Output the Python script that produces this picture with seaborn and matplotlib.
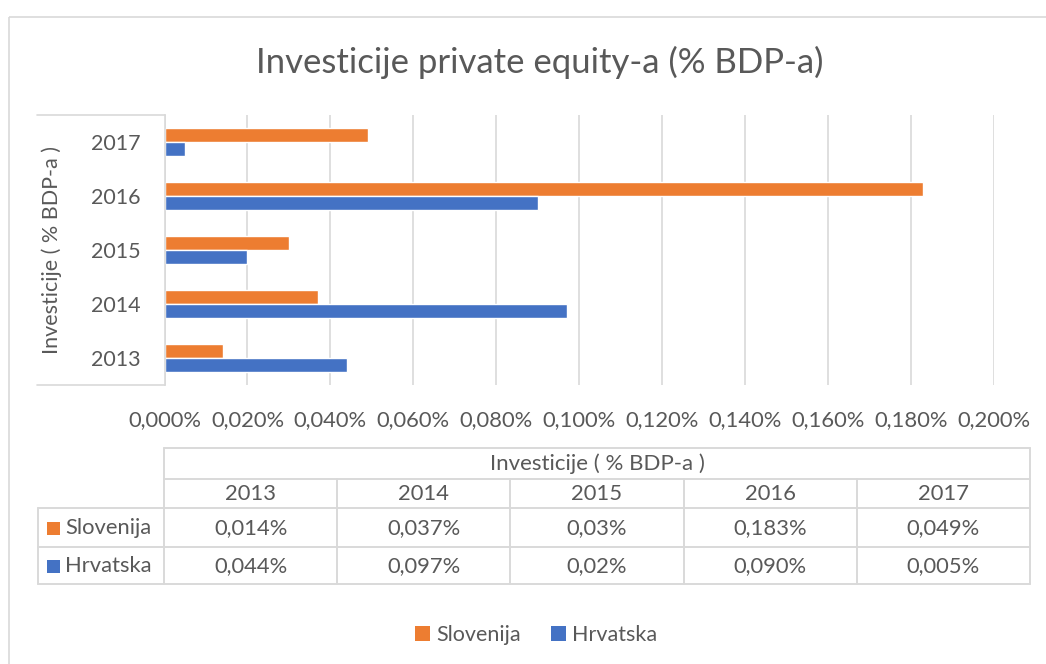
import matplotlib
matplotlib.use("Agg")
import matplotlib.pyplot as plt
from matplotlib.patches import Patch, Rectangle
from matplotlib.lines import Line2D
import seaborn as sns
import pandas as pd

# ---- data ----
years = ["2013", "2014", "2015", "2016", "2017"]
countries = ["Slovenija", "Hrvatska"]
slovenija = [0.014, 0.037, 0.030, 0.183, 0.049]
hrvatska = [0.044, 0.097, 0.020, 0.090, 0.005]
slovenija_labels = ["0,014%", "0,037%", "0,03%", "0,183%", "0,049%"]
hrvatska_labels = ["0,044%", "0,097%", "0,02%", "0,090%", "0,005%"]
x_ticks = [0.00, 0.02, 0.04, 0.06, 0.08, 0.10, 0.12, 0.14, 0.16, 0.18, 0.20]
title = "Investicije private equity-a (% BDP-a)"
axis_title = "Investicije ( % BDP-a )"

ORANGE = "#ED7D31"
BLUE = "#4472C4"
TXT = "#595959"
GRID = "#D9D9D9"

df = pd.DataFrame({
    "year": years * 2,
    "country": ["Slovenija"] * len(years) + ["Hrvatska"] * len(years),
    "value": slovenija + hrvatska,
})

sns.set_theme(style="white")
plt.rcParams["font.family"] = ["Lato", "DejaVu Sans"]

W, H = 1046, 664
fig = plt.figure(figsize=(W / 100, H / 100), dpi=100)
fig.patch.set_facecolor("white")

def fx(px):
    return px / W

def fy(py):
    return 1 - py / H

# decoration overlay (pixel coordinates)
deco = fig.add_axes([0, 0, 1, 1], zorder=0)
deco.set_xlim(0, W)
deco.set_ylim(H, 0)
deco.axis("off")

# main bar axes
ax = fig.add_axes([fx(164.5), fy(385), fx(994) - fx(164.5), fy(115) - fy(385)], zorder=2)
ax.patch.set_alpha(0)
sns.barplot(data=df, y="year", x="value", hue="country",
            order=years[::-1], hue_order=countries,
            palette=[ORANGE, BLUE], width=0.52, orient="h",
            saturation=1, ax=ax, legend=False)
ax.set_xlim(0, 0.2)
ax.set_xticks(x_ticks)
ax.set_xticklabels([f"{v:.3f}%".replace(".", ",") for v in x_ticks])
ax.set_xlabel("")
ax.set_ylabel("")
ax.grid(axis="x", color=GRID, lw=1.2)
ax.grid(axis="y", visible=False)
ax.set_axisbelow(True)
for s in ["top", "right", "bottom"]:
    ax.spines[s].set_visible(False)
ax.spines["left"].set_color(GRID)
ax.spines["left"].set_linewidth(1.2)
ax.tick_params(axis="x", length=0, pad=18, labelsize=15.8, labelcolor=TXT)
ax.tick_params(axis="y", length=0, pad=17, labelsize=15.5, labelcolor=TXT)

# outer chart border
deco.add_patch(Rectangle((8.5, 16.5), 1100, 700, fill=False, ec=GRID, lw=1.2))

# axis-title area lines
deco.add_line(Line2D([37, 164.5], [115, 115], color=GRID, lw=1.2))
deco.add_line(Line2D([37, 164.5], [385, 385], color=GRID, lw=1.2))

# title and y-axis title
fig.text(fx(540), fy(62), title, ha="center", va="center", fontsize=25, color=TXT)
fig.text(fx(52), fy(250), axis_title, ha="center", va="center", rotation=90,
         fontsize=15.5, color=TXT)

# ---- data table ----
col_edges = [164 + i * 173.2 for i in range(6)]
row_edges = [448, 479, 508, 547, 584]
lw = 1.4
# horizontal lines
deco.add_line(Line2D([col_edges[0], col_edges[-1]], [row_edges[0]] * 2, color=GRID, lw=lw))
deco.add_line(Line2D([col_edges[0], col_edges[-1]], [row_edges[1]] * 2, color=GRID, lw=lw))
for r in row_edges[2:]:
    deco.add_line(Line2D([38, col_edges[-1]], [r, r], color=GRID, lw=lw))
# vertical lines
deco.add_line(Line2D([col_edges[0]] * 2, [row_edges[0], row_edges[-1]], color=GRID, lw=lw))
deco.add_line(Line2D([col_edges[-1]] * 2, [row_edges[0], row_edges[-1]], color=GRID, lw=lw))
for c in col_edges[1:-1]:
    deco.add_line(Line2D([c, c], [row_edges[1], row_edges[-1]], color=GRID, lw=lw))
deco.add_line(Line2D([38, 38], [row_edges[2], row_edges[-1]], color=GRID, lw=lw))

def cy(i):
    return (row_edges[i] + row_edges[i + 1]) / 2

TS = 15.8
deco.text((col_edges[0] + col_edges[-1]) / 2, cy(0), axis_title,
          ha="center", va="center", fontsize=16, color=TXT)
for j, y in enumerate(years):
    xc = (col_edges[j] + col_edges[j + 1]) / 2
    deco.text(xc, cy(1) + 1, y, ha="center", va="center", fontsize=TS, color=TXT)
    deco.text(xc, cy(2) + 1, slovenija_labels[j], ha="center", va="center", fontsize=TS, color=TXT)
    deco.text(xc, cy(3) + 1, hrvatska_labels[j], ha="center", va="center", fontsize=TS, color=TXT)

for i, (name, col) in enumerate(zip(countries, [ORANGE, BLUE])):
    yc = cy(2 + i) + 1
    deco.add_patch(Rectangle((47, yc - 6.5), 13, 13, color=col, lw=0))
    deco.text(65, yc, name, ha="left", va="center", fontsize=TS, color=TXT)

# ---- legend ----
handles = [Patch(facecolor=ORANGE, edgecolor="none", label="Slovenija"),
           Patch(facecolor=BLUE, edgecolor="none", label="Hrvatska")]
leg = fig.legend(handles=handles, loc="center", bbox_to_anchor=(fx(536), fy(635)),
                 ncol=2, frameon=False, fontsize=15.5, handlelength=0.7, handleheight=0.7,
                 handletextpad=0.3, columnspacing=1.4)
for t in leg.get_texts():
    t.set_color(TXT)

fig.savefig("out.png", dpi=100, facecolor="white")
